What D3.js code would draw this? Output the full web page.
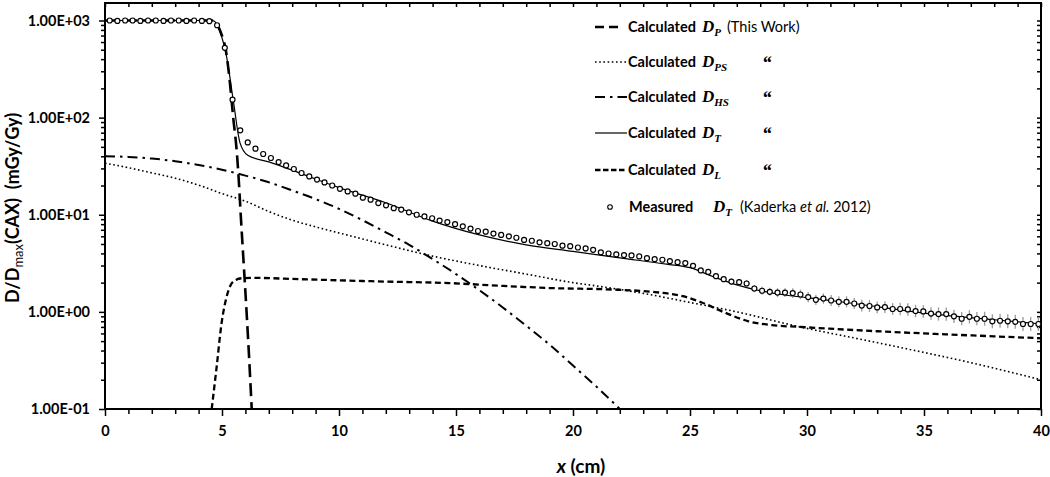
<!DOCTYPE html>
<html><head><meta charset="utf-8">
<script src="https://cdn.jsdelivr.net/npm/d3@7"></script>
<style>
body{margin:0;background:#fff;}
svg{display:block;font-family:Lato,"Open Sans",sans-serif;}
</style>
</head><body>
<svg id="c" width="1050" height="477"></svg>
<script>
// ---------- data ----------
const xTicks = [0,5,10,15,20,25,30,35,40];
const xTickLabels = ["0","5","10","15","20","25","30","35","40"];
const yTicks = [0.1,1,10,100,1000];
const yTickLabels = ["1.00E-01","1.00E+00","1.00E+01","1.00E+02","1.00E+03"];

// Calculated D_P (primary)
const dpX = [0,4.6,4.8,5.0,5.16,5.3,5.48,5.63,5.72,5.8,5.9,6.05,6.17,6.27];
const dpY = [1000,1000,900,700,500,280,100,45,22,10,4,1,0.3,0.1];
// Calculated D_PS
const dpsX = [0,1,2,3,4,5,6,7,8,9,10,12,14,16,18,20,21,23,25,27,29.7,32,34.4,37,40];
const dpsY = [34,30.5,27,23.8,20.2,16.5,13.8,10.8,8.8,7.5,6.5,4.9,3.75,3.0,2.45,2.0,1.85,1.55,1.25,1.0,0.7,0.54,0.41,0.3,0.2];
// Calculated D_HS
const dhsX = [0,1,2,3,4,5,6,7,8,9,10,11,12,13,14,15,16,17,18,19,20,21,22];
const dhsY = [40,39.4,37.9,35.6,32.5,29.1,25.3,21.6,17.8,14.5,11.5,8.8,6.6,4.9,3.5,2.45,1.67,1.11,0.72,0.46,0.28,0.17,0.1];
// Calculated D_T
const dtX = [0,4.5,4.65,4.9,5.2,5.5,5.77,6.1,7,8.3,10,12,14,16,18,20,22,24,25,26,27,28,29,30,32,35,38,40];
const dtY = [1000,1000,990,780,420,140,55,41,35,27,19,13.3,8.6,6.2,4.9,4.2,3.6,3.1,2.85,2.3,1.9,1.65,1.5,1.4,1.22,0.97,0.83,0.75];
// Calculated D_L
const dlX = [4.56,4.77,4.98,5.2,5.48,5.84,6.3,8.33,12,14.7,17,19,21.9,23.5,24.7,25.5,26.5,27.5,28.5,29.7,32,35,38,40];
const dlY = [0.1,0.27,0.76,1.44,2.05,2.22,2.24,2.17,2.05,1.98,1.85,1.76,1.69,1.6,1.45,1.25,0.98,0.8,0.73,0.7,0.65,0.6,0.56,0.535];

// Measured D_T (Kaderka et al. 2012)
const measX = [0.20,0.53,0.86,1.18,1.51,1.84,2.17,2.50,2.82,3.15,3.48,3.81,4.14,4.46,4.79,5.12,5.45,5.78,6.10,6.43,6.76,7.09,7.42,7.74,8.07,8.40,8.73,9.06,9.38,9.71,10.04,10.37,10.70,11.02,11.35,11.68,12.01,12.34,12.66,12.99,13.32,13.65,13.98,14.30,14.63,14.96,15.29,15.62,15.94,16.27,16.60,16.93,17.26,17.58,17.91,18.24,18.57,18.90,19.22,19.55,19.88,20.21,20.54,20.86,21.19,21.52,21.85,22.18,22.50,22.83,23.16,23.49,23.82,24.14,24.47,24.80,25.13,25.46,25.78,26.11,26.44,26.77,27.10,27.42,27.75,28.08,28.41,28.74,29.06,29.39,29.72,30.05,30.38,30.70,31.03,31.36,31.69,32.02,32.34,32.67,33.00,33.33,33.66,33.98,34.31,34.64,34.97,35.30,35.62,35.95,36.28,36.61,36.94,37.26,37.59,37.92,38.25,38.58,38.90,39.23,39.56,39.89];
const measY = [1000,990,1000,1000,990,1000,1000,990,1000,1000,990,1000,990,985,
893,523,153,74,55.6,47.9,42.2,38.4,34.9,32.2,29.6,26.9,
24.8,23.0,21.5,20.0,18.5,17.4,16.5,15.0,14.3,13.2,12.5,11.7,11.3,10.6,10.0,9.6,9.2,8.7,8.4,8.0,7.6,7.2,6.8,6.7,6.4,6.2,6.0,5.8,5.5,5.4,5.2,5.1,5.0,4.8,4.75,4.6,4.5,4.35,4.1,
3.99,3.9,3.84,3.81,3.72,3.57,3.49,3.44,3.33,3.25,3.18,2.98,2.67,2.58,2.33,2.17,2.05,2.02,1.96,1.74,1.65,1.61,1.58,1.58,1.56,1.51,
1.42,1.33,1.37,1.31,1.27,1.27,1.22,1.16,1.15,1.11,1.12,1.07,1.07,1.06,1.02,1.01,0.96,0.95,0.95,0.90,0.85,0.89,0.85,0.85,0.80,0.81,0.80,0.79,0.75,0.75,0.75];
// relative uncertainty of measured points
const measErr = [0,0,0,0,0,0,0,0,0,0,0,0,0,0,0,0,0,0,0,0,0,0,0,0,0,0,0,0,0,0,0,0,0,0,0,0,0,0,0,0,0,0,0,0,0,0,0,0,0,0,0,0,0,0,0,0,0,0,0,0,0,0,0,0,0,0,
0.02,0.02,0.03,0.03,0.03,0.04,0.04,0.04,0.05,0.05,
0.05,0.06,0.06,0.07,0.07,0.08,0.08,0.09,0.09,0.10,0.10,0.11,0.11,0.12,0.12,
0.13,0.13,0.13,0.14,0.14,0.14,0.14,0.15,0.15,0.15,0.15,0.15,0.16,0.16,0.16,0.16,0.16,0.17,0.17,0.17,0.17,0.17,0.17,0.18,0.18,0.18,0.18,0.18,0.18,0.18,0.18];

// ---------- chart ----------
const svg = d3.select('#c');
const X0 = 105, X1 = 1041, YT = 3, YB = 409;
const x = d3.scaleLinear().domain([0,40]).range([X0,X1]);
const y = d3.scaleLog().domain([0.1,1000]).range([YB,20.5]);

svg.append('defs').append('clipPath').attr('id','clip')
  .append('rect').attr('x',X0).attr('y',YT).attr('width',X1-X0).attr('height',YB-YT);

const minorY = [];
[0.1,1,10,100].forEach(d=>{for(let k=2;k<=9;k++) minorY.push(+(d*k).toPrecision(3));});
const minorX = d3.range(0,41).filter(v=>v%5!==0);

function styleAxis(g){
  g.select('.domain').remove();
  g.selectAll('line').attr('stroke','#000').attr('stroke-width',1.5);
}
// left axis
svg.append('g').attr('transform',`translate(${X0},0)`)
  .call(d3.axisLeft(y).tickValues(yTicks).tickFormat((d,i)=>yTickLabels[yTicks.indexOf(d)]).tickSize(6).tickPadding(9))
  .call(styleAxis)
  .call(g=>g.selectAll('text').attr('font-family','Lato,sans-serif').attr('font-weight','bold').attr('font-size','14.5px').attr('fill','#000'));
svg.append('g').attr('transform',`translate(${X0},0)`)
  .call(d3.axisLeft(y).tickValues(minorY).tickFormat('').tickSize(4)).call(styleAxis);
// right axis (inward ticks)
svg.append('g').attr('transform',`translate(${X1},0)`)
  .call(d3.axisRight(y).tickValues(minorY.concat(yTicks)).tickFormat('').tickSize(-4)).call(styleAxis);
// bottom axis
svg.append('g').attr('transform',`translate(0,${YB})`)
  .call(d3.axisBottom(x).tickValues(xTicks).tickFormat((d,i)=>xTickLabels[i]).tickSize(7).tickPadding(10))
  .call(styleAxis)
  .call(g=>g.selectAll('text').attr('font-family','Lato,sans-serif').attr('font-weight','bold').attr('font-size','14.5px').attr('fill','#000'));
svg.append('g').attr('transform',`translate(0,${YB})`)
  .call(d3.axisBottom(x).tickValues(minorX).tickFormat('').tickSize(5)).call(styleAxis);
// top axis (inward ticks)
svg.append('g').attr('transform',`translate(0,${YT})`)
  .call(d3.axisTop(x).tickValues(d3.range(0,41)).tickFormat('').tickSize(-4)).call(styleAxis);

// frame
svg.append('rect').attr('x',X0).attr('y',YT).attr('width',X1-X0).attr('height',YB-YT)
  .attr('fill','none').attr('stroke','#000').attr('stroke-width',2);

// lines
const line = d3.line().x(d=>x(d[0])).y(d=>y(d[1])).curve(d3.curveMonotoneX);
const plot = svg.append('g').attr('clip-path','url(#clip)');
const zip = (a,b)=>a.map((v,i)=>[v,b[i]]);
const series = [
  {d:zip(dpsX,dpsY), w:1.6, dash:'1.6,2.6'},
  {d:zip(dhsX,dhsY), w:2, dash:'10,5,2.5,5'},
  {d:zip(dlX,dlY), w:2.3, dash:'6,3.5'},
  {d:zip(dpX,dpY), w:2.6, dash:'13,6'},
  {d:zip(dtX,dtY), w:1.2, dash:null}
];
series.forEach(s=>{
  plot.append('path').attr('d',line(s.d)).attr('fill','none').attr('stroke','#000')
    .attr('stroke-width',s.w).attr('stroke-dasharray',s.dash);
});

// measured error bars + circles
const meas = measX.map((v,i)=>({x:v,y:measY[i],e:measErr[i]}));
plot.selectAll('line.err').data(meas.filter(d=>d.e>0)).join('line').attr('class','err')
  .attr('x1',d=>x(d.x)).attr('x2',d=>x(d.x))
  .attr('y1',d=>y(d.y*(1+d.e))).attr('y2',d=>y(d.y/(1+d.e)))
  .attr('stroke','#9a9a9a').attr('stroke-width',1.3);
plot.selectAll('circle.m').data(meas).join('circle').attr('class','m')
  .attr('cx',d=>x(d.x)).attr('cy',d=>y(d.y)).attr('r',2.5)
  .attr('fill','#fff').attr('stroke','#000').attr('stroke-width',1.2);

// axis titles
const yl = svg.append('text').attr('transform','translate(19,208) rotate(-90)')
  .attr('text-anchor','middle').attr('font-weight','bold').attr('font-size','18px').attr('fill','#000');
yl.append('tspan').text('D/D');
yl.append('tspan').text('max').attr('font-size','13px').attr('font-weight','normal').attr('dy',4);
yl.append('tspan').text('(CAX)\u00a0\u00a0(mGy/Gy)').attr('dy',-4);

const xl = svg.append('text').attr('x',581).attr('y',473).attr('text-anchor','middle')
  .attr('font-weight','bold').attr('font-size','19px').attr('fill','#000');
xl.append('tspan').text('x').attr('font-style','italic');
xl.append('tspan').text(' (cm)');

// legend
const legRows = [
  {y:27, dash:'9,5', w:2.5, sym:'P'},
  {y:62, dash:'1.6,2.6', w:1.6, sym:'PS'},
  {y:97, dash:'10,5,2.5,5', w:2, sym:'HS'},
  {y:133, dash:null, w:1.2, sym:'T'},
  {y:170, dash:'5.5,2.5', w:2.3, sym:'L'}
];
const leg = svg.append('g');
legRows.forEach(r=>{
  leg.append('line').attr('x1',595).attr('x2',r.sym==='P'?618:627).attr('y1',r.y).attr('y2',r.y)
    .attr('stroke','#000').attr('stroke-width',r.w).attr('stroke-dasharray',r.dash);
  leg.append('text').attr('x',628).attr('y',r.y+5).attr('font-weight','bold').attr('font-size','14.5px').text('Calculated');
  const t = leg.append('text').attr('x',702).attr('y',r.y+5).attr('font-family','"Liberation Serif",serif')
    .attr('font-weight','bold').attr('font-style','italic').attr('font-size','17px');
  t.append('tspan').text('D');
  t.append('tspan').text(r.sym).attr('font-size','11px').attr('dy',4);
  if(r.sym==='P'){
    leg.append('text').attr('x',727).attr('y',r.y+5).attr('font-size','14.5px').text('(This Work)');
  } else {
    leg.append('text').attr('x',762).attr('y',r.y+7).attr('font-family','"Liberation Serif",serif')
      .attr('font-size','19px').attr('font-weight','bold').attr('font-style','italic').text('\u201c');
  }
});
// measured legend row
leg.append('circle').attr('cx',610).attr('cy',207).attr('r',2.3).attr('fill','#fff').attr('stroke','#000').attr('stroke-width',1.1);
leg.append('text').attr('x',629).attr('y',212).attr('font-weight','bold').attr('font-size','14.5px').text('Measured');
const tm = leg.append('text').attr('x',713).attr('y',212).attr('font-family','"Liberation Serif",serif')
  .attr('font-weight','bold').attr('font-style','italic').attr('font-size','17px');
tm.append('tspan').text('D');
tm.append('tspan').text('T').attr('font-size','11px').attr('dy',4);
const tk = leg.append('text').attr('x',740).attr('y',212).attr('font-size','14.5px');
tk.append('tspan').text('(Kaderka ');
tk.append('tspan').text('et al.').attr('font-style','italic');
tk.append('tspan').text(' 2012)');
</script>
</body></html>
